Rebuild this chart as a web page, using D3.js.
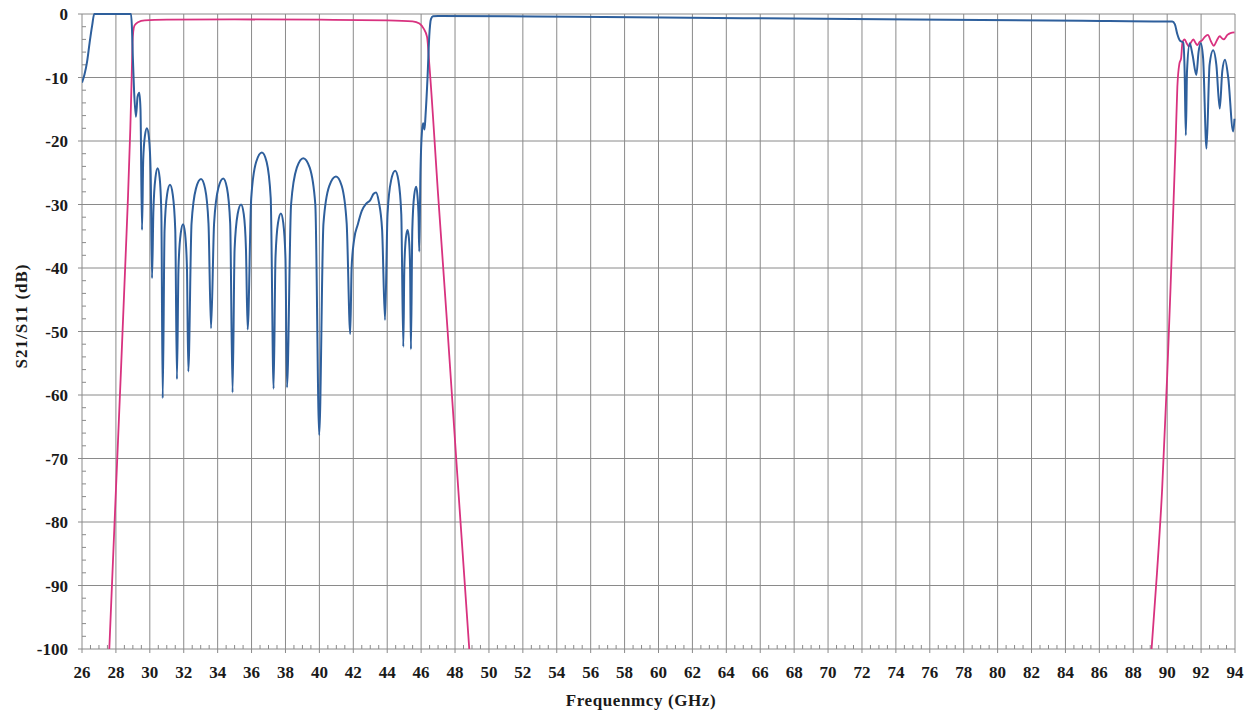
<!DOCTYPE html>
<html>
<head>
<meta charset="utf-8">
<script src="https://cdn.jsdelivr.net/npm/d3@7"></script>
<style>
  html, body { margin: 0; padding: 0; background: #ffffff; }
  svg { display: block; }
</style>
</head>
<body>
<svg id="chart" width="1249" height="713"></svg>
<script>
// ---- Data ----
const xTickValues = [26,28,30,32,34,36,38,40,42,44,46,48,50,52,54,56,58,60,62,64,66,68,70,72,74,76,78,80,82,84,86,88,90,92,94];
const yTickValues = [0,-10,-20,-30,-40,-50,-60,-70,-80,-90,-100];

// S11 (blue): [frequency GHz, dB]
const s11 = [
  [26.0,-10.8],[26.15,-9.5],[26.3,-7.5],[26.45,-4.5],[26.6,-1.8],[26.72,0],[28.89,0],
  [28.95,-2.5],[28.99,-6.2],[29.07,-12],[29.18,-16.2],[29.28,-13],[29.38,-12.4],[29.45,-15],
  [29.54,-34.0],[29.61,-23],[29.71,-19.2],[29.83,-18.0],[29.95,-19.5],[30.05,-25],
  [30.13,-41.6],[30.21,-31],[30.33,-25.8],[30.46,-24.3],[30.58,-25.8],[30.68,-31.5],
  [30.76,-60.5],[30.87,-34],[31.02,-28.4],[31.19,-26.9],[31.35,-28.4],[31.50,-34],
  [31.60,-57.5],[31.69,-40],[31.82,-34.6],[31.96,-33.1],[32.08,-34.6],[32.19,-40],
  [32.27,-56.3],[32.46,-33],[32.72,-27.5],[33.02,-26.0],[33.26,-27.5],[33.46,-33],
  [33.61,-49.5],[33.79,-33],[34.04,-27.4],[34.33,-25.9],[34.55,-27.4],[34.74,-33],
  [34.88,-59.6],[35.0,-37],[35.18,-31.5],[35.38,-30.0],[35.54,-31.5],[35.67,-37],
  [35.77,-49.7],[35.98,-29],[36.27,-23.3],[36.61,-21.8],[36.89,-23.3],[37.13,-29],
  [37.30,-59.0],[37.41,-38.5],[37.56,-32.9],[37.73,-31.4],[37.87,-32.9],[38.0,-38.5],
  [38.09,-58.8],[38.33,-30],[38.67,-24.2],[39.05,-22.7],[39.43,-24.2],[39.76,-30],
  [39.99,-66.3],[40.24,-33],[40.58,-27.1],[40.98,-25.6],[41.32,-27.1],[41.61,-33],
  [41.82,-50.4],[41.9,-40],[42.05,-35.5],[42.26,-33.2],[42.5,-31],[42.75,-29.9],
  [43.0,-29.3],[43.2,-28.3],[43.34,-28.1],[43.5,-29.5],[43.7,-34],
  [43.87,-48.2],[44.02,-31.5],[44.23,-26.2],[44.47,-24.7],[44.66,-26.2],[44.83,-31.5],
  [44.95,-52.4],[45.01,-40],[45.10,-35.3],[45.20,-34.0],[45.28,-35.3],[45.35,-40],
  [45.40,-52.8],[45.48,-34],[45.59,-28.6],[45.71,-27.2],[45.78,-28.5],[45.85,-32],
  [45.89,-37.4],[45.96,-25],[46.05,-18.5],[46.12,-17.2],[46.2,-18.2],[46.26,-16],
  [46.38,-9.9],[46.48,-3.5],[46.58,-0.8],[46.7,-0.35],[47.0,-0.3],
  [55,-0.45],[65,-0.65],[75,-0.85],[85,-1.05],[90.3,-1.2],
  [90.45,-1.6],[90.6,-3.2],[90.75,-4.2],[90.95,-4.5],[91.03,-9],[91.1,-19.1],[91.17,-9],
  [91.33,-4.6],[91.5,-6.5],[91.72,-9.6],[91.85,-6],[91.98,-4.6],[92.12,-7],
  [92.32,-21.2],[92.5,-8],[92.71,-5.7],[92.9,-8],[93.1,-14.9],[93.25,-9],
  [93.41,-7.2],[93.6,-10],[93.89,-18.5],[93.97,-16.5]
];

// S21 (magenta), lower passband
const s21Low = [
  [27.61,-100],[28.0,-75],[28.3,-56],[28.59,-37],[28.71,-29],[28.85,-18],[28.93,-10],
  [28.98,-4.5],[29.02,-2.8],[29.1,-1.8],[29.3,-1.3],[29.7,-1.0],[31,-0.9],[35,-0.85],
  [40,-0.9],[44,-1.0],[45.5,-1.15],[45.9,-1.5],[46.15,-2.3],[46.35,-3.6],[46.48,-7.8],
  [47.0,-28.4],[47.56,-49.8],[48.2,-75.2],[48.84,-100]
];

// S21 (magenta), upper band edge
const s21High = [
  [89.08,-100],[89.4,-88],[89.7,-75],[90.0,-57],[90.2,-43],[90.37,-30],[90.5,-20],
  [90.6,-11.5],[90.72,-7.8],[90.82,-7.0],[90.9,-4.5],[91.03,-4.0],[91.15,-4.6],[91.28,-5.1],
  [91.4,-4.5],[91.54,-4.0],[91.66,-4.5],[91.77,-4.9],[91.92,-4.4],[92.07,-4.1],[92.22,-3.6],
  [92.4,-3.3],[92.58,-4.3],[92.75,-5.0],[92.92,-4.2],[93.1,-3.5],[93.22,-3.8],[93.34,-4.0],
  [93.55,-3.3],[93.73,-3.0],[93.97,-2.9]
];

(function () {
  const svg = d3.select("#chart");
  const pL = 82, pR = 1235, pT = 14, pB = 649;
  const x = d3.scaleLinear().domain([26, 94]).range([pL, pR]);
  const y = d3.scaleLinear().domain([-100, 0]).range([pB, pT]);

  const gridColor = "#8a8a8a";
  const fontFam = "'Liberation Serif', 'Times New Roman', serif";

  const grid = svg.append("g");
  grid.selectAll("line.v").data(xTickValues).join("line")
    .attr("x1", d => x(d)).attr("x2", d => x(d))
    .attr("y1", pT).attr("y2", pB + 4)
    .attr("stroke", gridColor).attr("stroke-width", 1);
  grid.selectAll("line.h").data(yTickValues).join("line")
    .attr("x1", pL - 4).attr("x2", pR)
    .attr("y1", d => y(d)).attr("y2", d => y(d))
    .attr("stroke", gridColor).attr("stroke-width", 1);

  const xMinor = d3.range(26, 94.001, 0.5).filter(v => Math.abs(v % 2) > 1e-6);
  const yMinor = d3.range(-100, 0.001, 2).filter(v => Math.abs(v % 10) > 1e-6);
  grid.selectAll("line.xm").data(xMinor).join("line")
    .attr("x1", d => x(d)).attr("x2", d => x(d))
    .attr("y1", pB).attr("y2", pB - 4)
    .attr("stroke", gridColor).attr("stroke-width", 1);
  grid.selectAll("line.ym").data(yMinor).join("line")
    .attr("x1", pL).attr("x2", pL + 4)
    .attr("y1", d => y(d)).attr("y2", d => y(d))
    .attr("stroke", gridColor).attr("stroke-width", 1);

  svg.append("g").selectAll("text").data(xTickValues).join("text")
    .attr("x", d => x(d)).attr("y", 678)
    .attr("text-anchor", "middle")
    .attr("font-family", fontFam).attr("font-weight", "bold").attr("font-size", 17)
    .attr("fill", "#1a1a1a")
    .text(d => d);
  svg.append("g").selectAll("text").data(yTickValues).join("text")
    .attr("x", 68).attr("y", d => y(d) + 6)
    .attr("text-anchor", "end")
    .attr("font-family", fontFam).attr("font-weight", "bold").attr("font-size", 17)
    .attr("fill", "#1a1a1a")
    .text(d => d);

  svg.append("text")
    .attr("x", 641).attr("y", 706)
    .attr("text-anchor", "middle")
    .attr("font-family", fontFam).attr("font-weight", "bold").attr("font-size", 17)
    .attr("letter-spacing", 0.6)
    .attr("fill", "#1a1a1a")
    .text("Frequenmcy (GHz)");
  svg.append("text")
    .attr("transform", "translate(27,316) rotate(-90)")
    .attr("text-anchor", "middle")
    .attr("font-family", fontFam).attr("font-weight", "bold").attr("font-size", 17)
    .attr("letter-spacing", 1)
    .attr("fill", "#1a1a1a")
    .text("S21/S11 (dB)");

  svg.append("clipPath").attr("id", "plotclip").append("rect")
    .attr("x", pL).attr("y", pT - 3).attr("width", pR - pL + 2).attr("height", pB - pT + 3);

  const line = d3.line().x(d => x(d[0])).y(d => y(d[1])).curve(d3.curveMonotoneX);
  const curves = svg.append("g").attr("clip-path", "url(#plotclip)");

  curves.append("path").datum(s21Low).attr("d", line)
    .attr("fill", "none").attr("stroke", "#d8327f").attr("stroke-width", 1.8);
  curves.append("path").datum(s21High).attr("d", line)
    .attr("fill", "none").attr("stroke", "#d8327f").attr("stroke-width", 1.8);
  curves.append("path").datum(s11).attr("d", line)
    .attr("fill", "none").attr("stroke", "#2e5f9c").attr("stroke-width", 2)
    .attr("stroke-linejoin", "round");
})();
</script>
</body>
</html>
